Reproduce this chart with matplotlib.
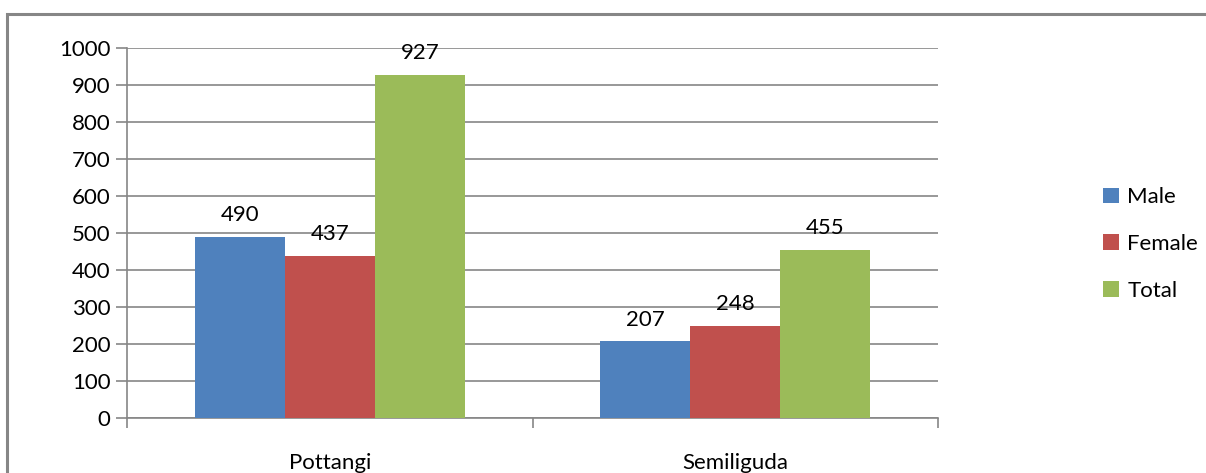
import numpy as np
import matplotlib.pyplot as plt
from matplotlib.patches import Rectangle

plt.rcParams['font.family'] = ['Lato', 'DejaVu Sans']

places = ['Pottangi', 'Semiliguda']
male = [490, 207]
female = [437, 248]
total = [927, 455]

series = [('Male', male, '#4F81BD'),
          ('Female', female, '#C0504D'),
          ('Total', total, '#9BBB59')]

fig = plt.figure(figsize=(12.06, 4.73), dpi=100)
ax = fig.add_axes([127/1206, 1 - 418/473, (938 - 127)/1206, (418 - 48)/473])

# outer chart border
fig.patches.append(Rectangle((7/1206, -0.05), 1.2, 1 - 14/473 + 0.05,
                             transform=fig.transFigure, fill=False,
                             edgecolor='#868686', linewidth=2.2))

fs = 16
x = np.arange(len(places))
w = 1 / 4.5
for i, (name, vals, col) in enumerate(series):
    pos = x + (i - 1) * w
    ax.bar(pos, vals, width=w, color=col, label=name, zorder=3)
    for p, v in zip(pos, vals):
        ax.text(p, v + 32, str(v), ha='center', va='bottom', fontsize=fs)

ax.set_xlim(-0.5, 1.5)
ax.set_ylim(0, 1000)
ax.set_yticks(range(0, 1001, 100))
ax.yaxis.grid(True, color='#868686', linewidth=1.2, zorder=0)
ax.set_xticks([-0.5, 0.5, 1.5])
ax.set_xticklabels([])
ax.set_xticks(x, minor=True)
ax.set_xticklabels(places, minor=True, fontsize=fs)
ax.tick_params(axis='x', which='minor', length=0, pad=25)
ax.tick_params(axis='x', which='major', length=7, color='#868686', width=1.2)
ax.tick_params(axis='y', length=8, color='#868686', width=1.2, labelsize=fs, pad=4)

for s in ['top', 'right']:
    ax.spines[s].set_visible(False)
for s in ['left', 'bottom']:
    ax.spines[s].set_color('#868686')
    ax.spines[s].set_linewidth(1.2)

fig.legend(loc='center left', bbox_to_anchor=(1083/1206, 1 - 244/473),
           frameon=False, fontsize=fs, handlelength=0.7, handleheight=0.7,
           handletextpad=0.4, labelspacing=1.2)

fig.savefig('out.png', dpi=100)
